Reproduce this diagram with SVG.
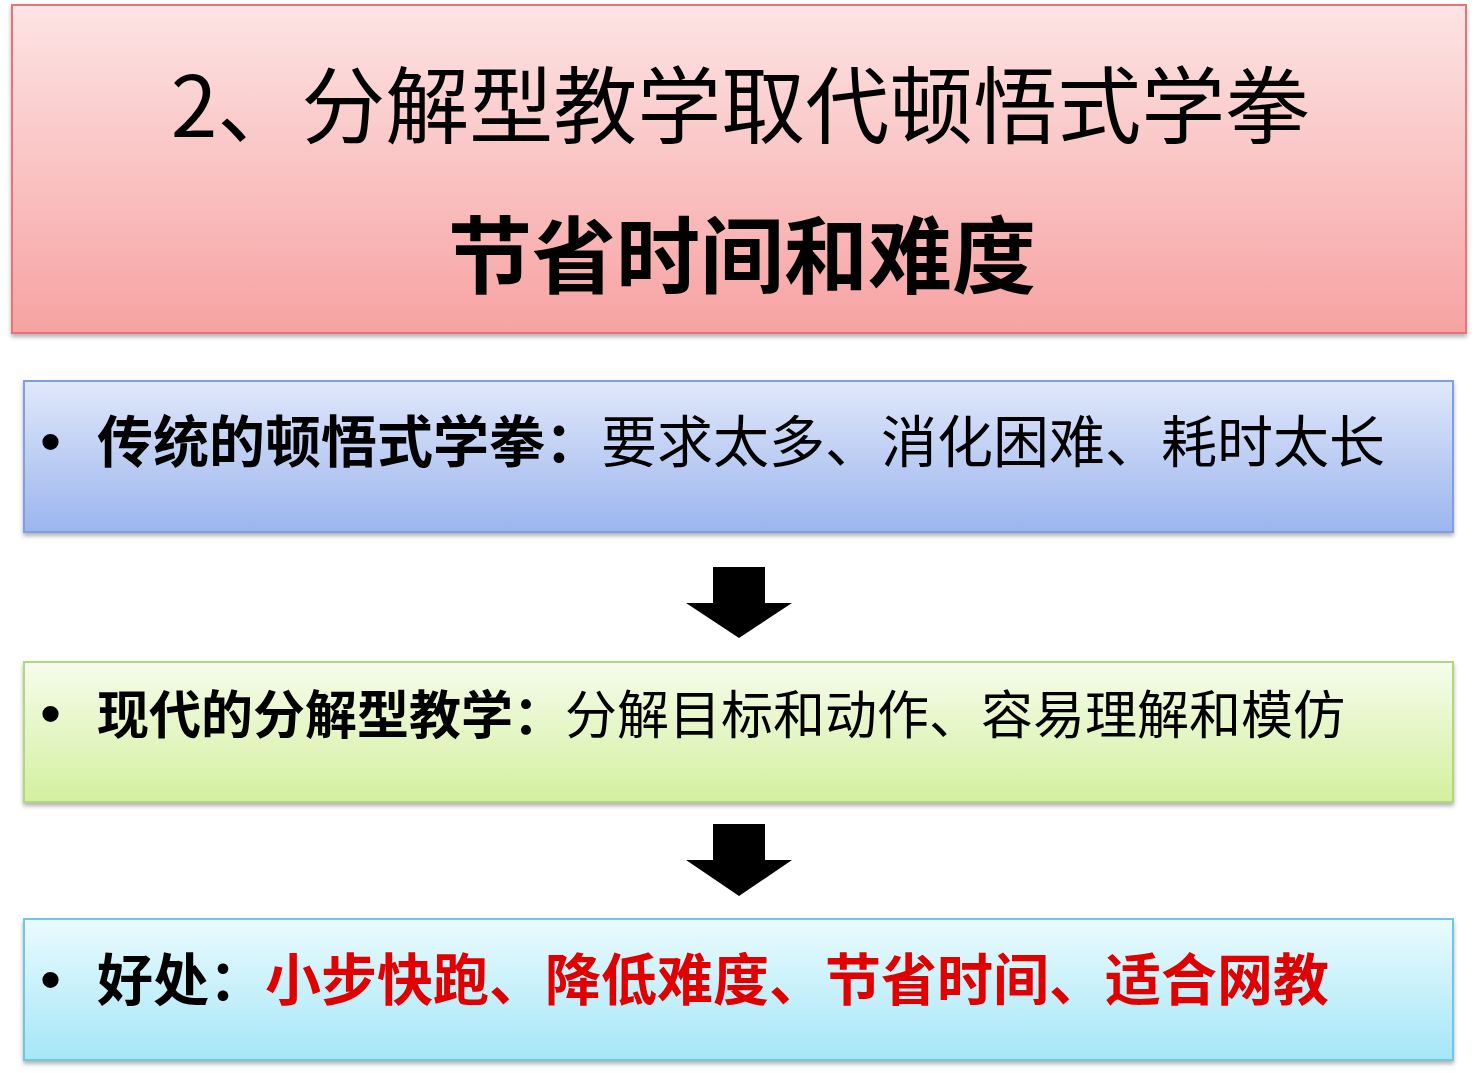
<svg xmlns="http://www.w3.org/2000/svg" width="1475" height="1073" viewBox="0 0 1475 1073">
<defs>
<linearGradient id="gR" x1="0" y1="0" x2="0" y2="1"><stop offset="0" stop-color="#fde4e4"/><stop offset="1" stop-color="#f7a2a2"/></linearGradient>
<linearGradient id="gB" x1="0" y1="0" x2="0" y2="1"><stop offset="0" stop-color="#e0e8fa"/><stop offset="1" stop-color="#9cb5ee"/></linearGradient>
<linearGradient id="gG" x1="0" y1="0" x2="0" y2="1"><stop offset="0" stop-color="#f6fcec"/><stop offset="1" stop-color="#d3f09e"/></linearGradient>
<linearGradient id="gC" x1="0" y1="0" x2="0" y2="1"><stop offset="0" stop-color="#eafbfe"/><stop offset="1" stop-color="#a6e6f8"/></linearGradient>
<filter id="sh" x="-5%" y="-5%" width="110%" height="115%"><feDropShadow dx="0" dy="3" stdDeviation="2" flood-opacity="0.3"/></filter>
</defs>
<style>
text{font-family:"Noto Sans CJK SC","Liberation Sans",sans-serif;fill:#000}
.t{font-size:84px}
.t2{font-size:84px;font-weight:bold}
.b{font-size:56px}
.b3{font-size:52px}
.dot{font-size:60px;font-family:"Liberation Sans",sans-serif}
.bold{font-weight:bold}
.red{fill:#e00000;font-weight:bold}
</style>
<rect width="1475" height="1073" fill="#fff"/>
<g id="title">
<rect x="12" y="5" width="1454" height="328" fill="url(#gR)" stroke="#e07878" stroke-width="2" filter="url(#sh)"/>
<text class="t" x="740" y="137" text-anchor="middle">2、分解型教学取代顿悟式学拳</text>
<text class="t2" x="742" y="287" text-anchor="middle">节省时间和难度</text>
</g>
<g id="box1">
<rect x="24" y="381" width="1429" height="151" fill="url(#gB)" stroke="#7f9fe0" stroke-width="2" filter="url(#sh)"/>
<text class="dot" x="40" y="462">•</text>
<text class="b" x="97" y="462"><tspan class="bold">传统的顿悟式学拳：</tspan>要求太多、消化困难、耗时太长</text>
</g>
<g id="box2">
<rect x="24" y="662" width="1429" height="140" fill="url(#gG)" stroke="#b0d880" stroke-width="2" filter="url(#sh)"/>
<text class="dot" x="40" y="734">•</text>
<text class="b3" x="97" y="734"><tspan class="bold">现代的分解型教学：</tspan>分解目标和动作、容易理解和模仿</text>
</g>
<g id="box3">
<rect x="24" y="919" width="1429" height="141" fill="url(#gC)" stroke="#70c8e0" stroke-width="2" filter="url(#sh)"/>
<text class="dot" x="40" y="1000">•</text>
<text class="b" x="97" y="1000"><tspan class="bold">好处：</tspan><tspan class="red">小步快跑、降低难度、节省时间、适合网教</tspan></text>
</g>
<g id="connectors">
<polygon points="713,567 765,567 765,603 792,603 739,638 686,603 713,603" fill="#000"/>
<polygon points="713,824 765,824 765,860 792,860 739,896 686,860 713,860" fill="#000"/>
</g>
</svg>
